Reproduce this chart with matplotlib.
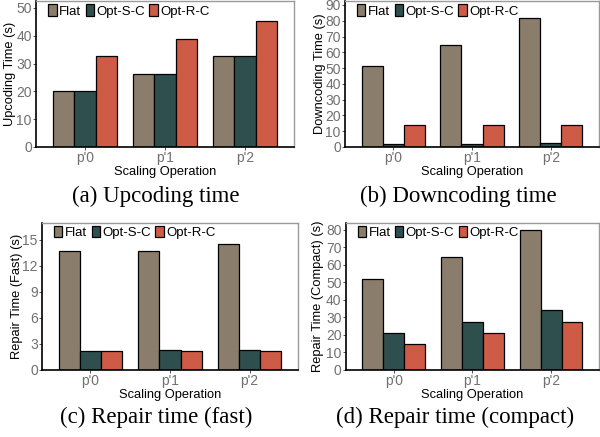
import matplotlib
matplotlib.use("Agg")
import matplotlib.pyplot as plt
import numpy as np

categories = ["p'0", "p'1", "p'2"]
series = ["Flat", "Opt-S-C", "Opt-R-C"]
colors = ["#8B7D6B", "#2F4F4F", "#CD5B45"]

upcoding = {"Flat": [20.0, 26.3, 32.7], "Opt-S-C": [20.0, 26.3, 32.7], "Opt-R-C": [32.7, 38.9, 45.4]}
downcoding = {"Flat": [51.4, 64.4, 81.6], "Opt-S-C": [1.7, 1.9, 2.3], "Opt-R-C": [13.8, 13.8, 13.8]}
repair_fast = {"Flat": [13.7, 13.7, 14.5], "Opt-S-C": [2.15, 2.22, 2.22], "Opt-R-C": [2.13, 2.15, 2.15]}
repair_compact = {"Flat": [51.9, 64.7, 79.8], "Opt-S-C": [20.8, 27.3, 34.0], "Opt-R-C": [14.9, 20.8, 27.1]}

ylabels = ["Upcoding Time (s)", "Downcoding Time (s)", "Repair Time (Fast) (s)", "Repair Time (Compact) (s)"]
captions = ["(a) Upcoding time", "(b) Downcoding time", "(c) Repair time (fast)", "(d) Repair time (compact)"]
yticks = [np.arange(0, 51, 10), np.arange(0, 91, 10), np.arange(0, 16, 3), np.arange(0, 81, 10)]
ylims = [52.5, 92.5, 17.0, 84.2]
datasets = [upcoding, downcoding, repair_fast, repair_compact]

W, H = 600, 437
fig = plt.figure(figsize=(6.0, 4.37), dpi=100)
plt.rcParams['font.family'] = ['Liberation Sans', 'DejaVu Sans']

# axes boxes in pixels: left, right, top, bottom
boxes = [(36, 294, 1, 147), (345, 599, 1, 147), (42, 298, 222.5, 369.7), (345.7, 599, 222.5, 369.7)]
ylab_x = [-0.078, -0.075, -0.074, -0.086]
cap_pos = [(156, 196), (458, 196), (156, 417), (455, 417)]

x = np.arange(1, len(categories) + 1)
bw = 0.8 / 3
for i, (l, r, t, b) in enumerate(boxes):
    ax = fig.add_axes([l / W, 1 - b / H, (r - l) / W, (b - t) / H])
    data = datasets[i]
    for j, s in enumerate(series):
        ax.bar(x + (j - 1) * bw, data[s], width=bw, color=colors[j], edgecolor="black",
               linewidth=0.9, label=s, zorder=2)
    ax.set_xlim(0.39, 3.61)
    ax.set_ylim(0, ylims[i])
    ax.set_xticks(x)
    ax.set_xticklabels(categories)
    ax.set_yticks(yticks[i])
    ax.tick_params(axis='both', length=2, width=0.6, color="#333333", labelcolor="#707070",
                   labelsize=10, pad=1)
    for sp in ["left", "bottom"]:
        ax.spines[sp].set_color("black")
        ax.spines[sp].set_linewidth(1.2)
    for sp in ["top", "right"]:
        ax.spines[sp].set_color("#9a9a9a")
        ax.spines[sp].set_linewidth(1.0)
    ax.set_ylabel(ylabels[i], fontsize=9.3, color="black")
    ax.yaxis.set_label_coords(ylab_x[i], 0.5)
    ax.set_xlabel("Scaling Operation", fontsize=9.3, color="black", labelpad=0.5)
    ax.legend(loc="upper left", bbox_to_anchor=(0.03, 1.01), ncol=3, frameon=False,
              fontsize=9.5, handlelength=0.62, handleheight=1.0, handletextpad=0.18,
              columnspacing=0.35, borderaxespad=0.1, borderpad=0.25)
    fig.text(cap_pos[i][0] / W, 1 - cap_pos[i][1] / H, captions[i], ha="center", va="center",
             fontsize=16.5, family=["Liberation Serif", "DejaVu Serif"])

fig.savefig("out.png", dpi=100)
